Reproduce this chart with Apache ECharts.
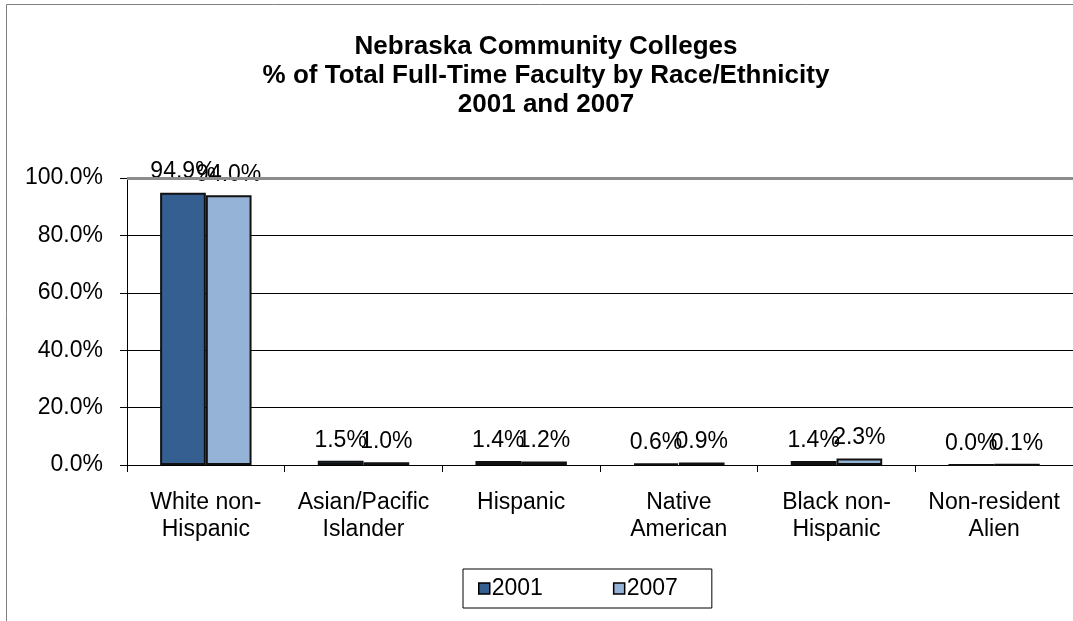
<!DOCTYPE html>
<html><head><meta charset="utf-8">
<script src="https://cdn.jsdelivr.net/npm/echarts@6/dist/echarts.min.js"></script>
<style>html,body{margin:0;padding:0;background:#fff}#c{width:1073px;height:621px}</style>
</head><body><div id="c"></div>
<script>
var categories = ['White non-\nHispanic', 'Asian/Pacific\nIslander', 'Hispanic', 'Native\nAmerican', 'Black non-\nHispanic', 'Non-resident\nAlien'];
var seriesNames = ['2001', '2007'];
var values2001 = [94.9, 1.5, 1.4, 0.6, 1.4, 0.0];
var values2007 = [94.0, 1.0, 1.2, 0.9, 2.3, 0.1];
var titleLines = ['Nebraska Community Colleges', '% of Total Full-Time Faculty by Race/Ethnicity', '2001 and 2007'];
var yTicks = [0, 20, 40, 60, 80, 100];

var FONT = '"Liberation Sans", Arial, sans-serif';
var chart = echarts.init(document.getElementById('c'));
function lbl() {
  return { show: true, position: 'top', distance: 9, color: '#000', fontSize: 23, fontFamily: FONT,
    formatter: function (p) { return p.value.toFixed(1) + '%'; } };
}
chart.setOption({
  animation: false,
  backgroundColor: '#fff',
  graphic: [{ type: 'rect', shape: { x: 6.5, y: 4.5, width: 1200, height: 800 }, style: { fill: 'none', stroke: '#808080', lineWidth: 1 }, silent: true }],
  title: { text: titleLines.join('\n'), left: 541, top: 27, textAlign: 'center',
    textStyle: { fontFamily: FONT, fontWeight: 'bold', fontSize: 26, lineHeight: 29, color: '#000' } },
  grid: { left: 127, right: 0, top: 178, bottom: 156, containLabel: false },
  legend: { top: 569, left: 463, itemWidth: 11, itemHeight: 11, itemGap: 70, icon: 'rect',
    padding: [8, 34, 8, 15], borderColor: '#000', borderWidth: 1,
    itemStyle: { borderColor: '#000', borderWidth: 1.5 },
    textStyle: { fontFamily: FONT, fontSize: 23, color: '#000', padding: [0, 0, 0, -3] }, data: seriesNames },
  xAxis: { type: 'category', data: categories,
    axisLine: { lineStyle: { color: '#000', width: 1 } },
    axisTick: { show: true, length: 7, lineStyle: { color: '#000' } },
    axisLabel: { color: '#000', fontSize: 23, fontFamily: FONT, lineHeight: 27, margin: 24, interval: 0 } },
  yAxis: { type: 'value', min: 0, max: 100, interval: 20,
    axisLine: { show: true, lineStyle: { color: '#000' } },
    axisTick: { show: true, length: 7, lineStyle: { color: '#000' } },
    splitLine: { show: true, lineStyle: { color: ['#000', '#000', '#000', '#000', '#000', '#888'], width: 1 } },
    axisLabel: { color: '#000', fontSize: 23, fontFamily: FONT, margin: 24,
      formatter: function (v) { return v.toFixed(1) + '%'; } } },
  series: [
    { name: seriesNames[0], type: 'bar', data: values2001, barGap: '0%', barCategoryGap: '42%',
      itemStyle: { color: '#365F91', borderColor: '#111', borderWidth: 2 }, label: lbl(),
      markLine: { silent: true, symbol: 'none', label: { show: false },
        lineStyle: { color: '#8c8c8c', width: 3, type: 'solid' }, data: [{ yAxis: yTicks[yTicks.length - 1] }] } },
    { name: seriesNames[1], type: 'bar', data: values2007,
      itemStyle: { color: '#95B3D7', borderColor: '#111', borderWidth: 2 }, label: lbl() }
  ]
});
</script></body></html>
